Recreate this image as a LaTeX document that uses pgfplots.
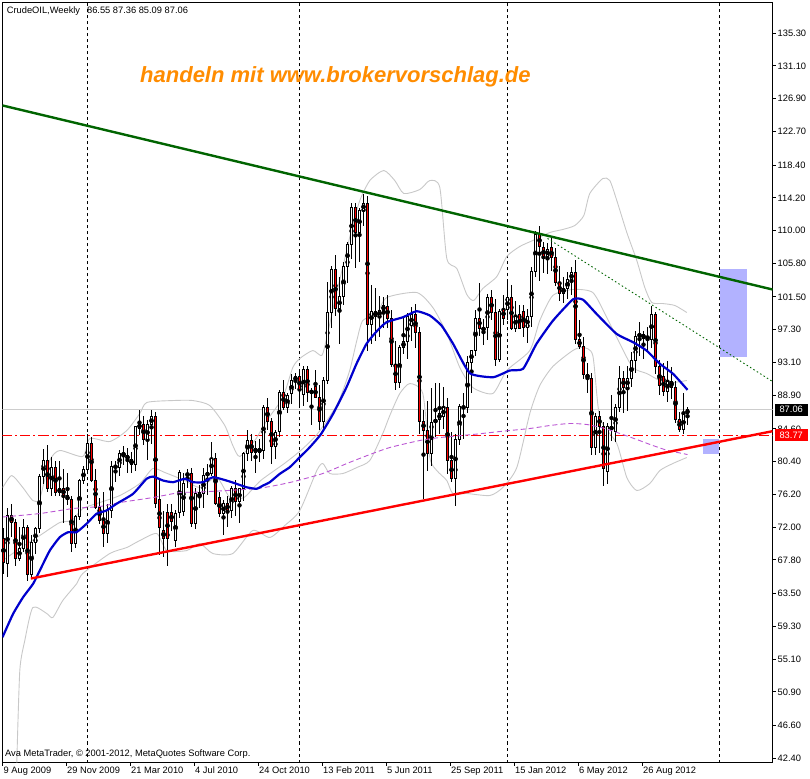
\documentclass[border=0pt]{standalone}
\usepackage{pgfplots}
\pgfplotsset{compat=1.18}
\usepackage{pgfplotstable}
\usepackage{fontspec}
\setmainfont{Liberation Sans}
\definecolor{maBlue}{RGB}{0,0,205}
\definecolor{tlGreen}{RGB}{0,100,0}
\definecolor{bandGrey}{RGB}{200,200,200}
\definecolor{bidGrey}{RGB}{205,205,205}
\definecolor{maMag}{RGB}{186,85,211}
\definecolor{rectBlue}{RGB}{178,178,255}
\definecolor{wmOrange}{RGB}{255,140,0}

\pgfplotstableread{
i o h l c
0 70.6 71.9 66.0 67.5
1 67.4 74.4 65.6 73.5
2 73.5 75.0 70.7 72.6
3 72.6 73.0 67.0 68.0
4 68.0 72.0 67.7 69.3
5 69.3 73.0 68.8 72.0
6 72.0 72.3 65.1 66.0
7 66.0 71.0 65.4 70.0
8 70.0 72.0 68.6 71.8
9 71.8 78.8 71.2 78.5
10 78.5 82.0 77.6 80.5
11 80.5 82.5 76.5 77.0
12 77.0 81.0 76.0 79.6
13 79.6 80.5 76.0 76.4
14 76.4 80.5 76.0 77.0
15 77.0 79.5 72.5 76.0
16 76.0 79.0 74.8 75.5
17 75.5 76.0 68.8 69.9
18 69.9 73.6 69.3 73.4
19 73.4 78.2 72.9 78.0
20 78.0 79.9 77.5 79.4
21 79.4 83.9 79.2 82.7
22 82.7 83.5 77.8 78.0
23 78.0 79.4 74.3 74.5
24 74.5 75.8 72.4 72.9
25 72.9 76.5 69.5 71.2
26 71.2 75.0 70.0 74.1
27 74.1 80.5 73.2 79.8
28 79.8 80.5 77.8 79.7
29 79.7 81.9 78.6 81.5
30 81.5 82.4 80.0 81.2
31 81.2 82.2 79.0 80.7
32 80.7 81.7 79.0 80.0
33 80.0 85.0 79.2 84.9
34 84.7 87.0 83.8 85.2
35 85.2 86.3 82.5 83.2
36 83.2 85.8 80.6 85.1
37 85.1 87.0 82.6 86.2
38 86.2 86.8 74.5 75.1
39 75.5 78.0 68.4 72.0
40 71.6 74.1 68.2 70.5
41 73.9 75.0 67.0 70.5
42 73.9 75.0 71.5 72.7
43 70.3 74.2 69.5 73.7
44 73.9 79.3 73.2 79.0
45 74.0 79.0 73.5 77.6
46 78.6 79.5 77.0 78.9
47 78.9 79.6 72.0 72.5
48 72.5 77.0 71.8 76.3
49 75.8 77.4 74.5 76.4
50 76.3 79.6 74.5 78.6
51 78.6 80.1 76.1 79.0
52 78.9 82.9 78.5 80.8
53 80.8 81.5 74.8 75.0
54 75.8 76.5 73.3 73.7
55 73.7 75.5 71.0 75.0
56 75.0 76.0 72.0 74.2
57 74.1 77.3 73.2 77.0
58 77.0 78.0 73.4 75.3
59 75.3 77.0 72.6 76.9
60 77.0 81.6 75.4 81.4
61 81.4 84.4 80.5 83.1
62 83.1 84.0 80.5 81.6
63 82.1 83.0 79.0 81.6
64 82.1 83.3 80.3 81.6
65 81.8 87.6 80.8 87.4
66 87.4 88.6 84.5 85.5
67 85.5 86.0 80.1 82.3
68 82.3 84.5 80.8 84.2
69 84.2 89.6 83.6 89.3
70 89.3 90.8 87.0 87.4
71 87.4 89.2 86.6 88.9
72 89.1 91.6 87.8 90.8
73 90.8 91.8 89.7 91.3
74 91.3 92.0 87.3 89.6
75 89.0 92.6 87.5 92.2
76 92.2 92.6 88.0 89.2
77 89.2 89.8 85.1 89.5
78 90.0 92.2 88.5 88.6
79 88.6 90.2 84.5 85.6
80 85.6 91.3 84.3 90.8
81 90.8 103.4 90.4 99.5
82 99.5 105.5 97.5 105.0
83 105.0 106.9 99.0 100.0
84 100.0 104.0 95.5 101.5
85 101.5 106.0 100.5 105.4
86 105.4 108.6 103.3 108.2
87 108.2 113.5 106.4 113.0
88 113.0 113.6 105.2 109.7
89 109.7 112.9 106.0 112.6
90 112.6 114.7 110.6 113.5
91 113.5 114.5 94.6 98.0
92 98.0 103.0 95.5 99.7
93 99.7 102.7 95.9 99.0
94 99.0 101.6 96.4 99.8
95 99.8 101.5 97.5 100.4
96 100.3 101.7 97.5 98.8
97 98.8 99.8 92.5 92.8
98 92.8 95.8 89.6 90.5
99 90.5 95.3 89.8 95.0
100 95.0 99.0 94.2 95.8
101 95.8 99.5 93.5 99.0
102 97.8 100.2 95.8 99.3
103 99.3 100.6 95.0 96.9
104 96.9 97.6 83.9 85.6
105 85.6 87.0 75.6 84.4
106 84.4 88.2 79.2 81.5
107 81.5 89.9 79.8 85.4
108 85.4 90.5 83.5 85.8
109 85.8 90.5 84.0 86.6
110 86.2 90.0 84.6 87.3
111 87.3 88.5 78.8 80.5
112 80.5 84.2 77.8 78.2
113 78.2 84.0 74.7 83.3
114 83.3 87.8 82.5 87.5
115 87.2 89.2 83.3 87.5
116 87.3 94.0 86.6 93.1
117 93.1 94.7 89.2 94.6
118 94.6 99.8 94.0 98.8
119 98.8 103.3 96.5 97.5
120 97.2 98.7 95.3 97.6
121 97.6 101.9 96.0 101.4
122 101.4 102.4 98.5 99.5
123 99.5 101.2 92.6 93.5
124 93.5 100.0 93.2 99.7
125 99.9 101.8 97.9 98.8
126 99.9 103.8 98.5 101.4
127 101.4 103.0 97.3 97.5
128 97.5 101.0 97.0 99.0
129 99.3 100.5 97.4 97.5
130 99.6 100.5 96.4 97.6
131 97.6 100.0 95.6 99.0
132 99.0 105.3 97.6 104.8
133 104.8 110.0 104.0 109.5
134 109.5 110.6 103.5 108.0
135 107.8 108.6 104.6 106.7
136 106.7 108.4 104.5 107.6
137 107.8 109.0 104.8 106.5
138 106.5 107.8 102.9 103.3
139 103.3 105.5 101.0 102.0
140 102.0 104.0 100.7 102.6
141 102.6 104.7 101.3 103.7
142 103.7 105.4 101.7 104.6
143 104.6 106.3 95.5 96.0
144 96.0 98.5 94.8 95.2
145 95.2 96.4 91.0 91.6
146 91.6 93.0 89.2 91.1
147 91.1 91.8 81.2 82.2
148 82.2 86.6 81.2 86.2
149 86.2 86.9 81.5 84.9
150 84.9 85.5 77.3 79.5
151 79.2 85.3 77.5 84.9
152 84.9 88.9 83.1 84.5
153 84.3 87.8 82.9 87.3
154 87.3 92.6 86.8 91.1
155 91.1 92.0 86.6 89.9
156 89.9 92.7 86.9 91.1
157 91.1 94.5 90.0 93.3
158 93.3 97.1 91.8 96.5
159 96.5 98.3 93.9 96.7
160 96.7 97.2 93.6 96.2
161 96.2 97.7 94.5 96.4
162 96.1 100.4 95.0 99.3
163 99.3 99.6 91.6 92.6
164 92.6 93.4 88.9 90.1
165 91.3 93.0 88.8 89.4
166 89.4 93.3 88.0 90.7
167 90.7 92.5 88.4 89.9
168 89.9 90.7 85.4 85.8
169 85.8 86.8 84.2 84.5
170 84.5 89.2 84.0 86.4
171 86.55 87.36 85.09 87.06
}\candles

\pgfplotsset{
  candlepart/.style={only marks, mark=none, forget plot,
    error bars/.cd, y dir=both, y explicit, error mark=none,
    error bar style={#1}},
}

\begin{document}
\begin{tikzpicture}[x=1pt,y=1pt]
\path[use as bounding box] (0,0) rectangle (810,778);
\begin{axis}[
  at={(2.5pt,15.5pt)}, anchor=south west,
  x=4pt, y=7.804pt,
  xmin=-0.25, xmax=192.25, ymin=41.85, ymax=139.23,
  axis line style={black,line width=1pt},
  tick align=outside, major tick length=3pt,
  tick style={black,line width=1pt},
  xtick pos=left, ytick pos=right, yticklabel pos=right,
  xtick={-0.25,15.625,31.625,47.625,63.625,79.625,95.625,111.625,127.625,143.625,159.625},
  xticklabels={9 Aug 2009,29 Nov 2009,21 Mar 2010,4 Jul 2010,24 Oct 2010,13 Feb 2011,5 Jun 2011,25 Sep 2011,15 Jan 2012,6 May 2012,26 Aug 2012},
  ytick={42.4,46.6,50.9,55.1,59.3,63.5,67.8,72.0,76.2,80.4,84.6,88.9,93.1,97.3,101.5,105.8,110.0,114.2,118.4,122.7,126.9,131.1,135.3},
  yticklabels={42.40,46.60,50.90,55.10,59.30,63.50,67.80,72.00,76.20,80.40,84.60,88.90,93.10,97.30,101.50,105.80,110.00,114.20,118.40,122.70,126.90,131.10,135.30},
  ticklabel style={font=\fontsize{9.3}{11}\selectfont, inner sep=0pt},
  xticklabel style={anchor=north west, xshift=1pt, yshift=-1pt},
  yticklabel style={anchor=west, xshift=2pt},
  clip mode=individual,
]
% rectangles
\addplot[draw=none, fill=rectBlue] coordinates {(179.075,105.11) (185.75,105.11) (185.75,93.78) (179.075,93.78)} -- cycle;
\addplot[draw=none, fill=rectBlue] coordinates {(174.9,83.27) (178.825,83.27) (178.825,81.40) (174.9,81.40)} -- cycle;
% separators
\addplot[black, line width=1pt, dash pattern=on 3pt off 3pt] coordinates {(21.0,41.85) (21.0,139.23)};
\addplot[black, line width=1pt, dash pattern=on 3pt off 3pt] coordinates {(74.0,41.85) (74.0,139.23)};
\addplot[black, line width=1pt, dash pattern=on 3pt off 3pt] coordinates {(126.0,41.85) (126.0,139.23)};
\addplot[black, line width=1pt, dash pattern=on 3pt off 3pt] coordinates {(179.0,41.85) (179.0,139.23)};
% bid line and horizontal line
\addplot[bidGrey, line width=1pt] coordinates {(-0.25,87.06) (192.25,87.06)};
\addplot[red, line width=1pt, dash pattern=on 10pt off 3pt on 2pt off 3pt] coordinates {(-0.25,83.77) (192.25,83.77)};
% upper band
\addplot[bandGrey, line width=0.9pt, smooth, tension=0.4] coordinates {
(-0.175,77.09) (2.075,78.62) (4.825,77.09) (7.325,75.42) (9.075,75.68) (11.575,80.55) (14.075,81.83) (19.825,81.06) (21.575,83.36) (26.575,82.98) (30.825,84.39) (34.075,86.57) (35.825,87.98) (42.325,88.23) (47.325,88.23) (51.575,87.59) (55.325,85.03) (57.325,82.47) (59.075,81.06) (62.825,83.11) (65.825,85.67) (69.825,88.62) (72.325,92.46) (74.075,93.62) (77.325,94.64) (79.575,94.00) (80.825,96.31) (82.825,101.05) (85.325,106.43) (87.075,110.27) (89.075,113.86) (91.575,116.42) (95.075,117.71) (97.825,116.42) (100.075,114.76) (104.075,115.27) (106.575,116.42) (109.075,115.53) (110.825,106.43) (113.325,105.15) (115.825,101.82) (117.575,101.05) (119.825,102.59) (123.325,104.12) (125.825,106.69) (129.075,107.97) (132.325,108.74) (136.575,109.76) (139.825,110.15) (142.825,110.66) (145.075,111.94) (146.575,114.76) (149.825,116.68) (151.575,116.42) (153.325,113.86) (155.825,109.76) (158.325,106.17) (160.325,102.71) (162.075,100.79) (164.825,100.66) (167.825,100.41) (170.825,99.51)};
% lower band
\addplot[bandGrey, line width=0.9pt, smooth, tension=0.4] coordinates {
(3.325,41.85) (4.075,53.64) (5.325,57.48) (7.325,61.71) (10.825,60.94) (12.325,60.43) (14.825,62.61) (18.325,64.78) (19.825,66.07) (26.575,68.63) (30.825,69.40) (34.075,70.29) (38.325,71.19) (40.825,69.01) (45.825,69.01) (49.075,69.91) (52.325,68.63) (57.325,68.63) (62.325,71.58) (66.575,70.68) (70.325,72.22) (74.075,74.14) (78.325,79.26) (79.825,80.16) (81.575,78.88) (84.825,78.88) (88.325,79.65) (91.575,80.55) (94.825,84.01) (96.575,86.31) (99.075,89.13) (101.575,90.41) (104.825,89.13) (106.575,80.93) (108.325,79.26) (110.825,77.98) (112.325,76.32) (115.825,76.32) (121.575,76.06) (124.825,77.09) (128.325,79.65) (131.575,86.57) (134.075,90.16) (137.325,92.59) (142.325,94.64) (144.825,95.03) (147.325,94.00) (149.075,86.06) (153.325,82.72) (155.825,78.37) (158.325,76.70) (161.575,77.60) (164.075,79.26) (167.325,80.16) (170.825,80.93)};
% middle grey
\addplot[bandGrey, line width=0.9pt, smooth, tension=0.4] coordinates {
(-0.175,67.73) (4.075,69.27) (9.075,70.93) (14.075,72.60) (17.075,72.86) (19.825,74.39) (24.075,75.16) (29.075,76.06) (34.075,77.60) (37.325,79.52) (40.325,79.01) (45.325,77.98) (49.075,77.09) (53.325,78.37) (56.6,75.80) (60.1,75.80) (64.3,77.98) (70.1,80.12) (74.3,81.83) (78.5,83.97) (83.5,87.82) (86.5,92.0) (88.325,95.92) (89.825,98.49) (93.325,99.38) (95.825,101.43) (103.325,102.07) (107.325,100.15) (110.825,96.82) (114.075,92.46) (117.325,89.90) (122.325,89.13) (125.825,92.08) (131.575,94.64) (134.075,98.49) (137.325,101.69) (142.325,102.46) (147.325,102.07) (150.825,98.87) (154.075,95.54) (157.325,92.46) (160.825,91.69) (164.075,90.80) (167.325,90.54) (170.825,90.80)};
% candles: wicks, body outline, body fill
\addplot[candlepart={black, line width=1pt}] table[x=i, y expr={(\thisrow{h}+\thisrow{l})/2}, y error expr={(\thisrow{h}-\thisrow{l})/2}] {\candles};
\addplot[candlepart={black, line width=3pt}] table[x=i, y expr={(\thisrow{o}+\thisrow{c})/2}, y error expr={abs(\thisrow{c}-\thisrow{o})/2+0.064}] {\candles};
\addplot[candlepart={white, line width=1pt}] table[x=i, y expr={(\thisrow{c}>=\thisrow{o}) ? (\thisrow{o}+\thisrow{c})/2 : nan}, y error expr={max(abs(\thisrow{c}-\thisrow{o})/2-0.064,0)}] {\candles};
\addplot[candlepart={red, line width=1pt}] table[x=i, y expr={(\thisrow{c}<\thisrow{o}) ? (\thisrow{o}+\thisrow{c})/2 : nan}, y error expr={max(abs(\thisrow{c}-\thisrow{o})/2-0.064,0)}] {\candles};
% slow MA (magenta dashed)
\addplot[maMag, line width=0.9pt, dash pattern=on 5pt off 3pt, smooth, tension=0.4] coordinates {
(-0.175,73.31) (9.075,73.75) (17.325,74.39) (24.075,74.65) (29.075,75.16) (37.325,75.80) (44.075,76.44) (49.075,76.51) (63.325,76.96) (71.575,77.73) (79.825,78.88) (85.825,80.16) (91.575,81.31) (96.575,82.21) (104.075,83.11) (109.075,83.49) (117.325,83.88) (124.075,84.26) (131.575,84.65) (136.575,85.03) (141.575,85.29) (145.825,85.16) (150.325,84.65) (154.075,84.01) (158.325,83.24) (162.325,82.47) (166.075,81.83) (169.825,81.44) (171,81.31)};
% MA (blue)
\addplot[maBlue, line width=2.2pt, smooth, tension=0.3] coordinates {
(-0.25,57.90) (2.4,60.90) (4.9,63.03) (7.4,64.75) (9.075,66.45) (11.575,69.01) (14.075,70.72) (16.15,71.36) (18.25,71.36) (20.75,72.43) (23.25,73.72) (25.75,74.14) (28.25,75.00) (32.4,76.28) (35.75,78.20) (37.4,78.49) (39.9,77.98) (42.4,77.77) (45.3,78.20) (47.4,77.77) (49.9,77.77) (52.4,78.41) (55.75,77.98) (58.25,77.56) (60.75,77.12) (63.25,76.92) (64.9,77.34) (66.575,77.77) (69.075,78.84) (71.575,79.69) (74.075,80.97) (76.575,82.25) (79.3,83.88) (82.4,86.53) (85.75,89.94) (88.25,92.94) (90.75,95.50) (93.25,97.08) (95.75,98.27) (99.9,98.91) (103.25,99.68) (106.575,99.13) (109.5,97.84) (112.4,95.50) (116.575,91.73) (122.4,91.22) (126.575,92.08) (129.9,92.30) (133.25,95.50) (137.4,98.49) (142.4,101.21) (144.9,101.14) (148.25,99.34) (153.25,96.78) (157.4,95.70) (160.75,94.64) (164.075,92.94) (167.4,91.65) (171,89.60)};
% trend lines
\addplot[tlGreen, line width=2.4pt] coordinates {(-0.25,126.04) (192.25,102.46)};
\addplot[red, line width=2.4pt] coordinates {(6.825,65.42) (192.25,84.30)};
\addplot[tlGreen, line width=0.9pt, dash pattern=on 1.5pt off 2.5pt] coordinates {(136.0,109.0) (192.25,90.67)};
\coordinate (pbid) at (axis cs:192.25,87.06);
\coordinate (pline) at (axis cs:192.25,83.77);
\end{axis}
\node[anchor=west, fill=black, text=white, inner sep=0.8pt, minimum height=12pt, minimum width=33pt, font=\fontsize{9.3}{11}\selectfont] at ([xshift=2pt]pbid) {87.06};
\node[anchor=west, fill=red, text=white, inner sep=0.8pt, minimum height=12pt, minimum width=33pt, font=\fontsize{9.3}{11}\selectfont] at ([xshift=2pt]pline) {83.77};
\node[anchor=base west, inner sep=0pt, font=\fontsize{9.3}{11}\selectfont] at (6.7,764) {CrudeOIL,Weekly\hspace{7pt}86.55 87.36 85.09 87.06};
\node[anchor=base west, inner sep=0pt, text=wmOrange, font=\fontsize{22}{24}\selectfont\bfseries\itshape] at (140,695) {handeln mit www.brokervorschlag.de};
\node[anchor=base west, inner sep=0pt, font=\fontsize{9.3}{11}\selectfont] at (5,22) {Ava MetaTrader, © 2001-2012, MetaQuotes Software Corp.};
\end{tikzpicture}
\end{document}
